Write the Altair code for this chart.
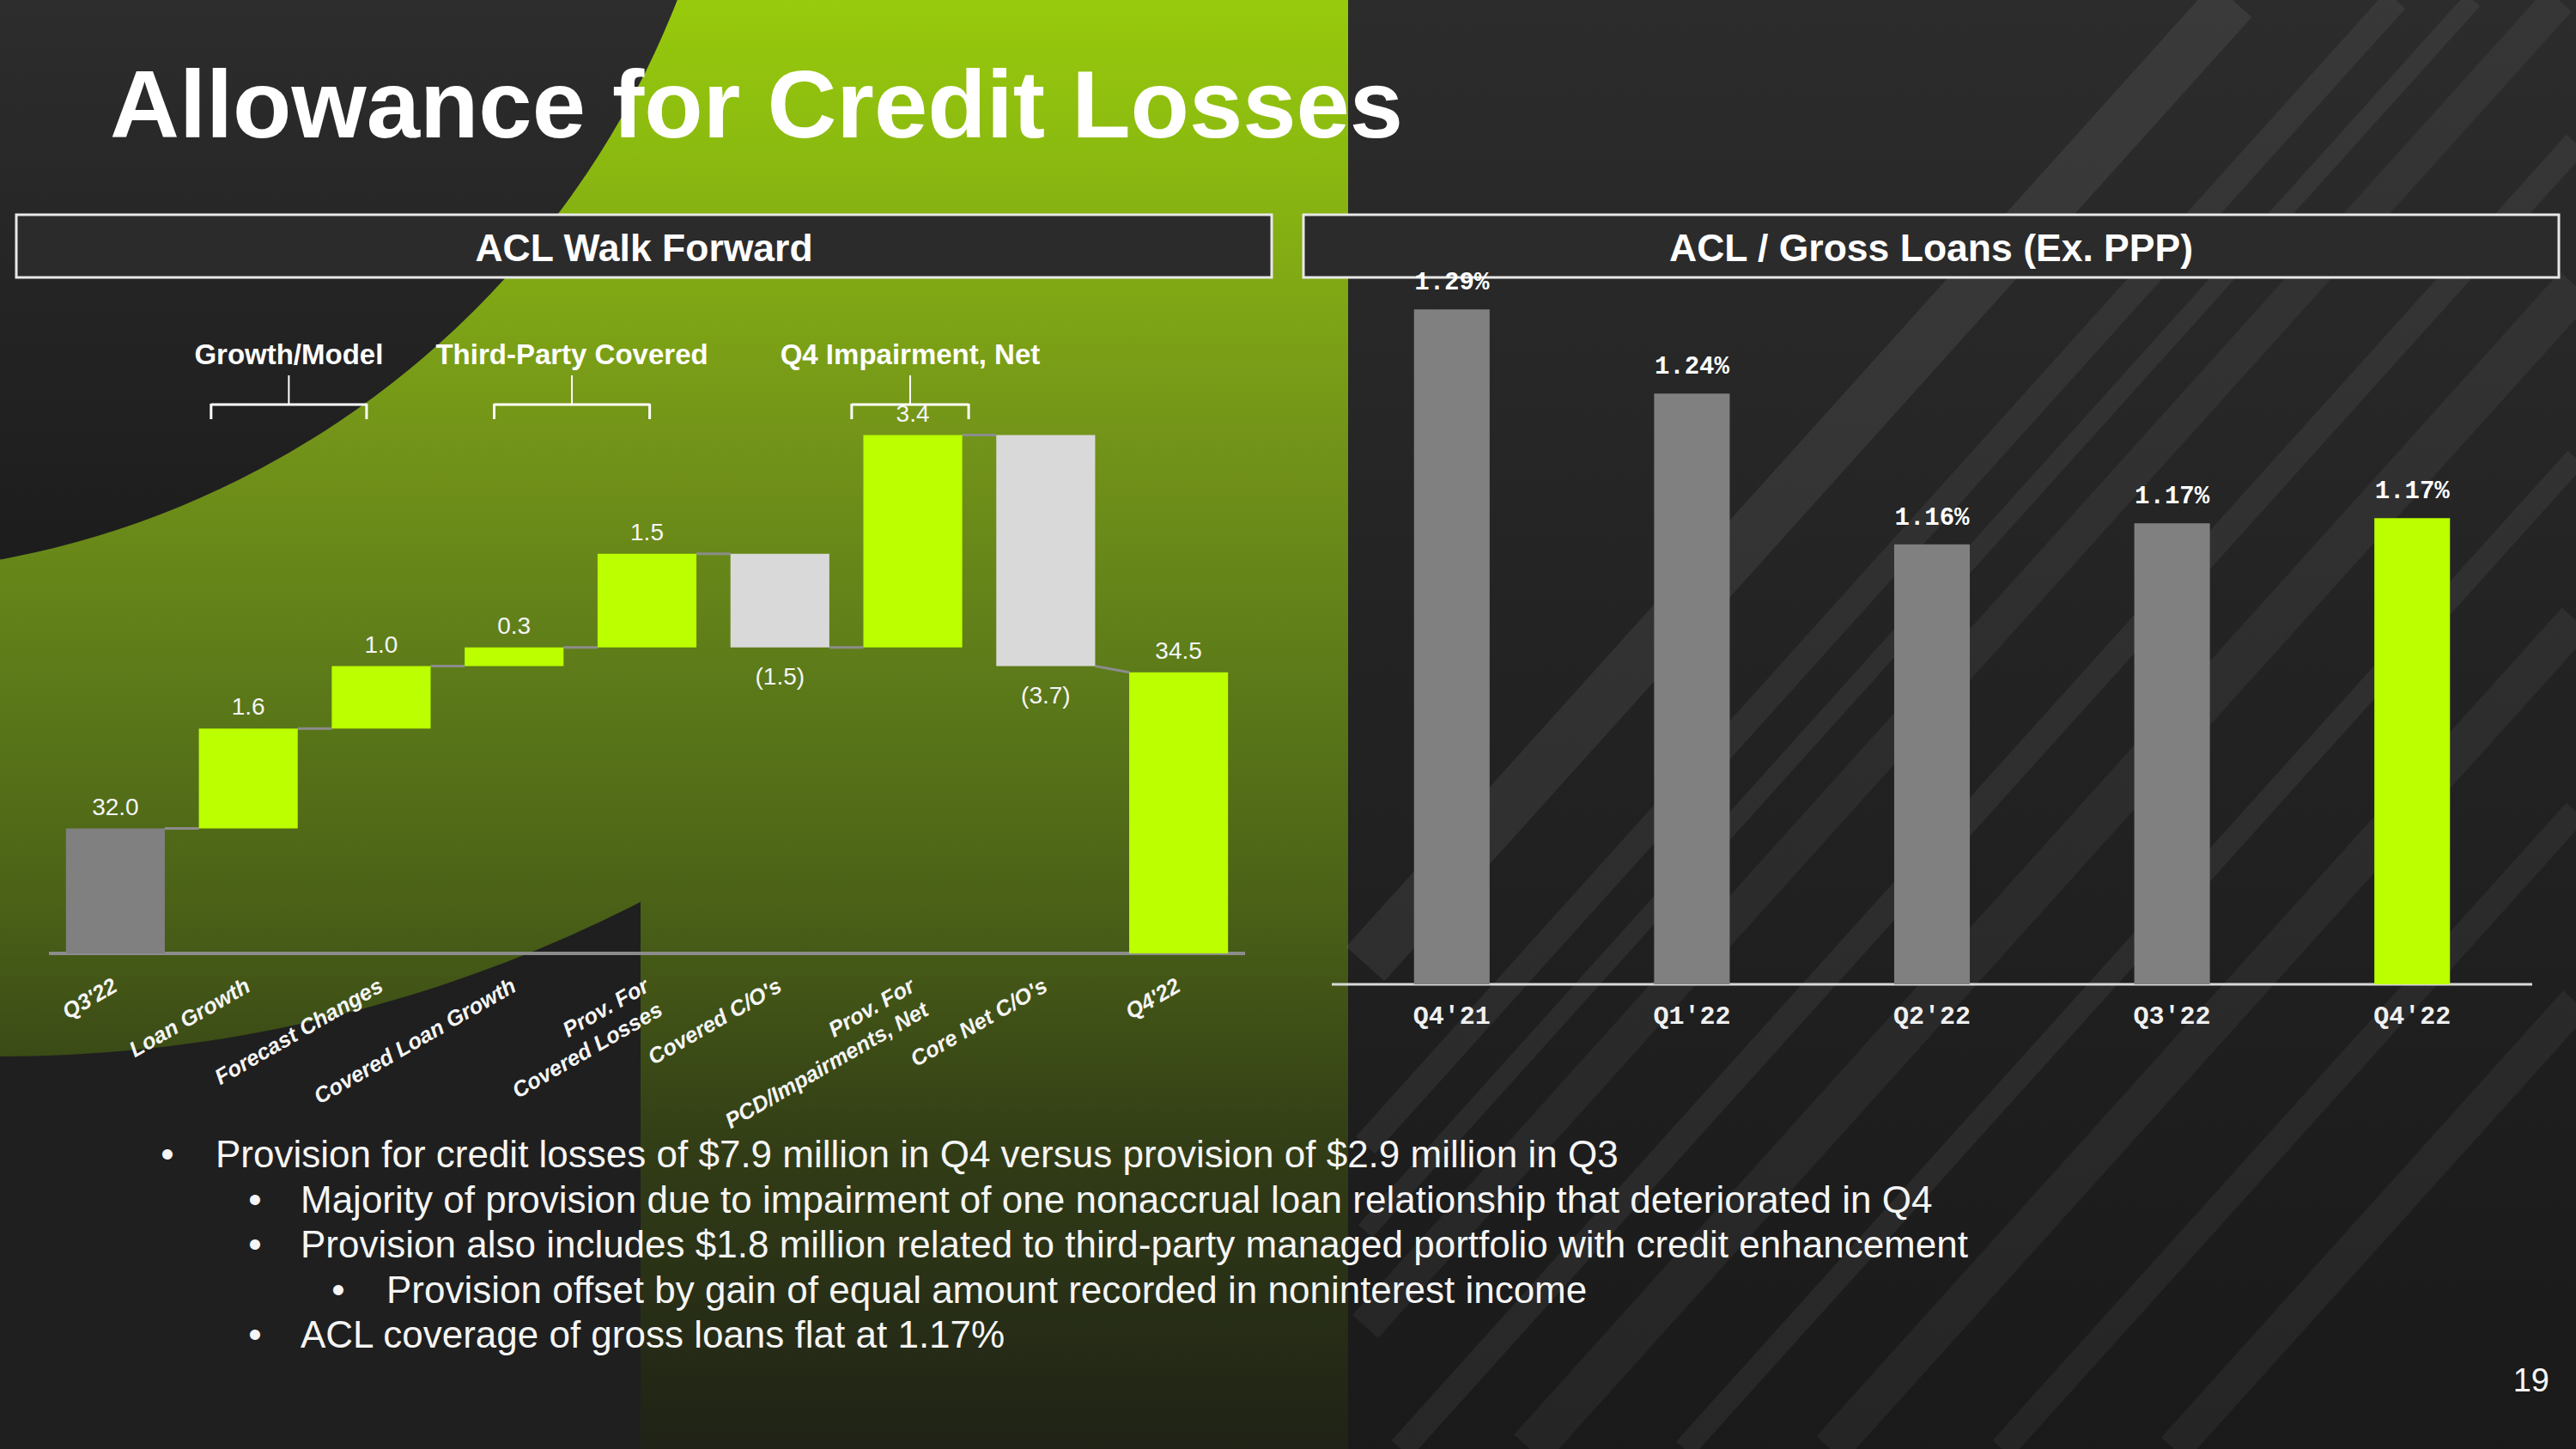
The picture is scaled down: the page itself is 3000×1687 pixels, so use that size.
import math
import altair as alt
import pandas as pd

# ---------------------------------------------------------------- data
walk_lines = [["Q3'22"], ["Loan Growth"], ["Forecast Changes"], ["Covered Loan Growth"],
              ["Prov. For", "Covered Losses"], ["Covered C/O's"],
              ["Prov. For", "PCD/Impairments, Net"], ["Core Net C/O's"], ["Q4'22"]]
walk_values = [32.0, 1.6, 1.0, 0.3, 1.5, -1.5, 3.4, -3.7, 34.5]
walk_is_total = [True, False, False, False, False, False, False, False, True]

group_labels = ["Growth/Model", "Third-Party Covered", "Q4 Impairment, Net"]
group_from = [0.72, 2.85, 5.54]   # in category-index units
group_to = [1.89, 4.02, 6.42]

ratio_quarters = ["Q4'21", "Q1'22", "Q2'22", "Q3'22", "Q4'22"]
ratio_values = [1.292, 1.244, 1.158, 1.170, 1.173]

bullet_levels = [0, 1, 1, 2, 1]
bullet_texts = [
    "Provision for credit losses of $7.9 million in Q4 versus provision of $2.9 million in Q3",
    "Majority of provision due to impairment of one nonaccrual loan relationship that deteriorated in Q4",
    "Provision also includes $1.8 million related to third-party managed portfolio with credit enhancement",
    "Provision offset by gain of equal amount recorded in noninterest income",
    "ACL coverage of gross loans flat at 1.17%",
]

title_text = "Allowance for Credit Losses"
left_header = "ACL Walk Forward"
right_header = "ACL / Gross Loans (Ex. PPP)"
page_number = "19"

# ---------------------------------------------------------------- style
FONT = "Liberation Sans"
MONO = "Liberation Mono"
W, H = 3000, 1687
GREEN = "#bbff00"
GRAY = "#808080"
LIGHT = "#d9d9d9"
TXT = "#f5f5f5"

FLOOR = 30.0
HW = 0.372
LX = alt.Scale(domain=[-0.5, 8.5], range=[57, 1450])
LY = alt.Scale(domain=[FLOOR, 40.0], range=[1110, 383])

RFLOOR = 0.907
RX = alt.Scale(domain=ratio_quarters, range=[1551, 2949], paddingInner=0.685, paddingOuter=0.3425)
RY = alt.Scale(domain=[RFLOOR, 1.35], range=[1146, 242])

# approximate Arial bold advance widths (em) used to centre two-line labels
CW = {' ': 0.278, '.': 0.278, ',': 0.278, '/': 0.278, "'": 0.238, 'P': 0.667, 'C': 0.722,
      'D': 0.722, 'I': 0.278, 'F': 0.611, 'L': 0.611, 'N': 0.722, 'r': 0.389, 'o': 0.611,
      'v': 0.556, 'e': 0.556, 'd': 0.611, 's': 0.556, 'i': 0.278, 'm': 0.889, 'p': 0.611,
      'a': 0.556, 'n': 0.611, 't': 0.333, 'c': 0.556, 'l': 0.278}


def text_w(s):
    return sum(CW.get(c, 0.556) for c in s)


def pad_lines(lines):
    if len(lines) == 1:
        return lines[0]
    wmax = max(text_w(l) for l in lines)
    return "\n".join(l + "\u00a0" * round((wmax - text_w(l)) / 2 / 0.278) for l in lines)


# ---------------------------------------------------------------- tables
rows = []
level = None
for i, (v, tot) in enumerate(zip(walk_values, walk_is_total)):
    if tot:
        start = end = v
        lo, hi = FLOOR, v
        kind = "start" if i == 0 else "end"
    else:
        start = level
        end = level + v
        lo, hi = min(start, end), max(start, end)
        kind = "up" if v > 0 else "down"
    level = end
    rows.append(dict(i=i, x0=i - HW, x1=i + HW, lo=lo, hi=hi, start=start, end=end,
                     kind=kind, pos=bool(v >= 0),
                     label=f"{v:.1f}" if v >= 0 else f"({-v:.1f})",
                     cat=pad_lines(walk_lines[i])))
walk = pd.DataFrame(rows)
conn = pd.DataFrame([dict(xa=rows[k]["i"] + HW, xb=rows[k + 1]["i"] - HW,
                          ya=rows[k]["end"], yb=rows[k + 1]["start"])
                     for k in range(len(rows) - 1)])
groups = pd.DataFrame(dict(label=group_labels, a=group_from, b=group_to))
groups["c"] = (groups["a"] + groups["b"]) / 2

ratio = pd.DataFrame(dict(q=ratio_quarters, v=ratio_values))
ratio["label"] = [f"{v:.2f}%" for v in ratio_values]
ratio["kind"] = ["past"] * (len(ratio_values) - 1) + ["current"]

one = alt.Data(values=[{"k": 0}])


def grad(stops):
    return alt.LinearGradient(gradient="linear", x1=0, y1=0, x2=0, y2=1,
                              stops=[alt.GradientStop(color=c, offset=o) for o, c in stops])


green_stops = [(0.0, "#98ca0c"), (0.1, "#8cbb10"), (0.3, "#739419"), (0.47, "#5c7a19"),
               (0.62, "#4b6217"), (0.8, "#313c16"), (1.0, "#1f2216")]

layers = []
# background: green area
layers.append(alt.Chart(one).mark_rect(color=grad(green_stops)).encode(
    x=alt.value(0), x2=alt.value(1570), y=alt.value(0), y2=alt.value(H)))
# dark lower-left (outside of the big green disc)
layers.append(alt.Chart(one).mark_arc(theta=0, theta2=2 * math.pi, innerRadius=1636,
                                      outerRadius=4200, color="#1f1f1f").encode(
    x=alt.value(0), y=alt.value(-406)))
# green stripe
layers.append(alt.Chart(one).mark_rect(color=grad(green_stops)).encode(
    x=alt.value(746), x2=alt.value(1570), y=alt.value(0), y2=alt.value(H)))
# dark upper-left disc
layers.append(alt.Chart(one).mark_arc(theta=0, theta2=2 * math.pi, outerRadius=1052,
                                      color=grad([(0, "#2e2e2e"), (0.68, "#2d2d2d"), (1, "#1c1c1c")])).encode(
    x=alt.value(-191), y=alt.value(-383)))
# dark right side
layers.append(alt.Chart(one).mark_rect(color=grad([(0, "#2c2c2c"), (0.5, "#222222"), (1, "#1a1a1a")])).encode(
    x=alt.value(1570), x2=alt.value(W), y=alt.value(0), y2=alt.value(H)))
# diagonal stripes on the right
for xt, sw, op in [(2600, 60, 0.07), (2790, 30, 0.06), (2880, 22, 0.06), (2980, 40, 0.05),
                   (3150, 30, 0.06), (3300, 50, 0.05), (3480, 26, 0.06), (3650, 44, 0.05),
                   (3850, 30, 0.05), (4050, 40, 0.05)]:
    s = 0.9
    ya = max(0.0, (xt - W) / s)
    yb = min(float(H), (xt - 1590) / s)
    if yb > ya:
        layers.append(alt.Chart(one).mark_rule(color="#ffffff", opacity=op, strokeWidth=sw).encode(
            x=alt.value(xt - s * ya), y=alt.value(ya), x2=alt.value(xt - s * yb), y2=alt.value(yb)))

# title
layers.append(alt.Chart(one).mark_text(text=title_text, font=FONT, fontSize=112, fontWeight="bold",
                                       color="#ffffff", align="left", baseline="alphabetic").encode(
    x=alt.value(128), y=alt.value(160)))
# header boxes
for x0, x1, label in [(19, 1481, left_header), (1518, 2980, right_header)]:
    layers.append(alt.Chart(one).mark_rect(fill="#2b2b2b", stroke="#e8e8e8", strokeWidth=3).encode(
        x=alt.value(x0), x2=alt.value(x1), y=alt.value(250), y2=alt.value(323)))
    layers.append(alt.Chart(one).mark_text(text=label, font=FONT, fontSize=44.5, fontWeight="bold",
                                           color="#ffffff", align="center", baseline="alphabetic").encode(
        x=alt.value((x0 + x1) / 2), y=alt.value(304)))

# ---------------------------------------------------------------- left: waterfall
layers.append(alt.Chart(one).mark_rule(color="#8c8c8c", strokeWidth=4).encode(
    x=alt.value(57), x2=alt.value(1450), y=alt.value(1110)))
layers.append(alt.Chart(conn).mark_rule(color="#8c8c8c", strokeWidth=3).encode(
    x=alt.X("xa:Q", scale=LX, axis=None), x2="xb:Q",
    y=alt.Y("ya:Q", scale=LY, axis=None), y2="yb:Q"))
layers.append(alt.Chart(walk).mark_rect().encode(
    x=alt.X("x0:Q", scale=LX, axis=None), x2="x1:Q",
    y=alt.Y("lo:Q", scale=LY, axis=None), y2="hi:Q",
    color=alt.Color("kind:N", scale=alt.Scale(domain=["start", "up", "down", "end"],
                                              range=[GRAY, GREEN, LIGHT, GREEN]), legend=None)))
layers.append(alt.Chart(walk).transform_filter("datum.pos").mark_text(
    font=FONT, fontSize=28, color=TXT, baseline="alphabetic", dy=-16).encode(
    x=alt.X("i:Q", scale=LX, axis=None), y=alt.Y("hi:Q", scale=LY, axis=None), text="label:N"))
layers.append(alt.Chart(walk).transform_filter("!datum.pos").mark_text(
    font=FONT, fontSize=28, color=TXT, baseline="alphabetic", dy=43).encode(
    x=alt.X("i:Q", scale=LX, axis=None), y=alt.Y("lo:Q", scale=LY, axis=None), text="label:N"))
layers.append(alt.Chart(walk).mark_text(
    font=FONT, fontSize=25.5, fontStyle="italic", fontWeight="bold", color=TXT, angle=330,
    align="right", baseline="middle", lineBreak="\n", lineHeight=32).encode(
    x=alt.X("i:Q", scale=LX, axis=None), y=alt.value(1146), text="cat:N"))

# brackets
layers.append(alt.Chart(groups).mark_rule(color="#ffffff", strokeWidth=3).encode(
    x=alt.X("a:Q", scale=LX, axis=None), x2="b:Q", y=alt.value(471)))
for fld in ["a", "b"]:
    layers.append(alt.Chart(groups).mark_rule(color="#ffffff", strokeWidth=3).encode(
        x=alt.X(f"{fld}:Q", scale=LX, axis=None), y=alt.value(470), y2=alt.value(488)))
layers.append(alt.Chart(groups).mark_rule(color="#ffffff", strokeWidth=2).encode(
    x=alt.X("c:Q", scale=LX, axis=None), y=alt.value(437), y2=alt.value(471)))
layers.append(alt.Chart(groups).mark_text(font=FONT, fontSize=33, fontWeight="bold", color="#ffffff",
                                          baseline="middle").encode(
    x=alt.X("c:Q", scale=LX, axis=None), y=alt.value(414), text="label:N"))

# ---------------------------------------------------------------- right: ACL ratio
layers.append(alt.Chart(one).mark_rule(color="#d9d9d9", strokeWidth=3).encode(
    x=alt.value(1551), x2=alt.value(2949), y=alt.value(1146)))
layers.append(alt.Chart(ratio).mark_bar().encode(
    x=alt.X("q:N", scale=RX, axis=None),
    y=alt.Y("v:Q", scale=RY, axis=None), y2=alt.datum(RFLOOR),
    color=alt.Color("kind:N", scale=alt.Scale(domain=["past", "current"], range=[GRAY, GREEN]),
                    legend=None)))
layers.append(alt.Chart(ratio).mark_text(font=MONO, fontSize=29, fontWeight="bold", color="#ffffff",
                                         baseline="alphabetic", dy=-23).encode(
    x=alt.X("q:N", scale=RX, axis=None), y=alt.Y("v:Q", scale=RY, axis=None), text="label:N"))
layers.append(alt.Chart(ratio).mark_text(font=MONO, fontSize=30, fontWeight="bold", color="#f0f0f0",
                                         baseline="alphabetic").encode(
    x=alt.X("q:N", scale=RX, axis=None), y=alt.value(1192), text="q:N"))

# ---------------------------------------------------------------- bullets
text_x = [251, 350, 450]
dot_x = [195, 297, 394]
for k, (lvl, txt) in enumerate(zip(bullet_levels, bullet_texts)):
    yb = 1359 + 52.5 * k
    layers.append(alt.Chart(one).mark_text(text="\u2022", font=FONT, fontSize=44, color=TXT,
                                           align="center", baseline="alphabetic").encode(
        x=alt.value(dot_x[lvl]), y=alt.value(yb)))
    layers.append(alt.Chart(one).mark_text(text=txt, font=FONT, fontSize=44, color=TXT,
                                           align="left", baseline="alphabetic").encode(
        x=alt.value(text_x[lvl]), y=alt.value(yb)))
layers.append(alt.Chart(one).mark_text(text=page_number, font=FONT, fontSize=38, color=TXT,
                                       align="right", baseline="alphabetic").encode(
    x=alt.value(2969), y=alt.value(1620)))

chart = alt.layer(*layers).resolve_scale(
    x="independent", y="independent", color="independent"
).properties(
    width=W, height=H, padding=0, autosize=alt.AutoSizeParams(type="none")
).configure_view(strokeWidth=0).configure(background="#262626")

chart.save("out.html", embed_options={"renderer": "svg", "actions": False})
